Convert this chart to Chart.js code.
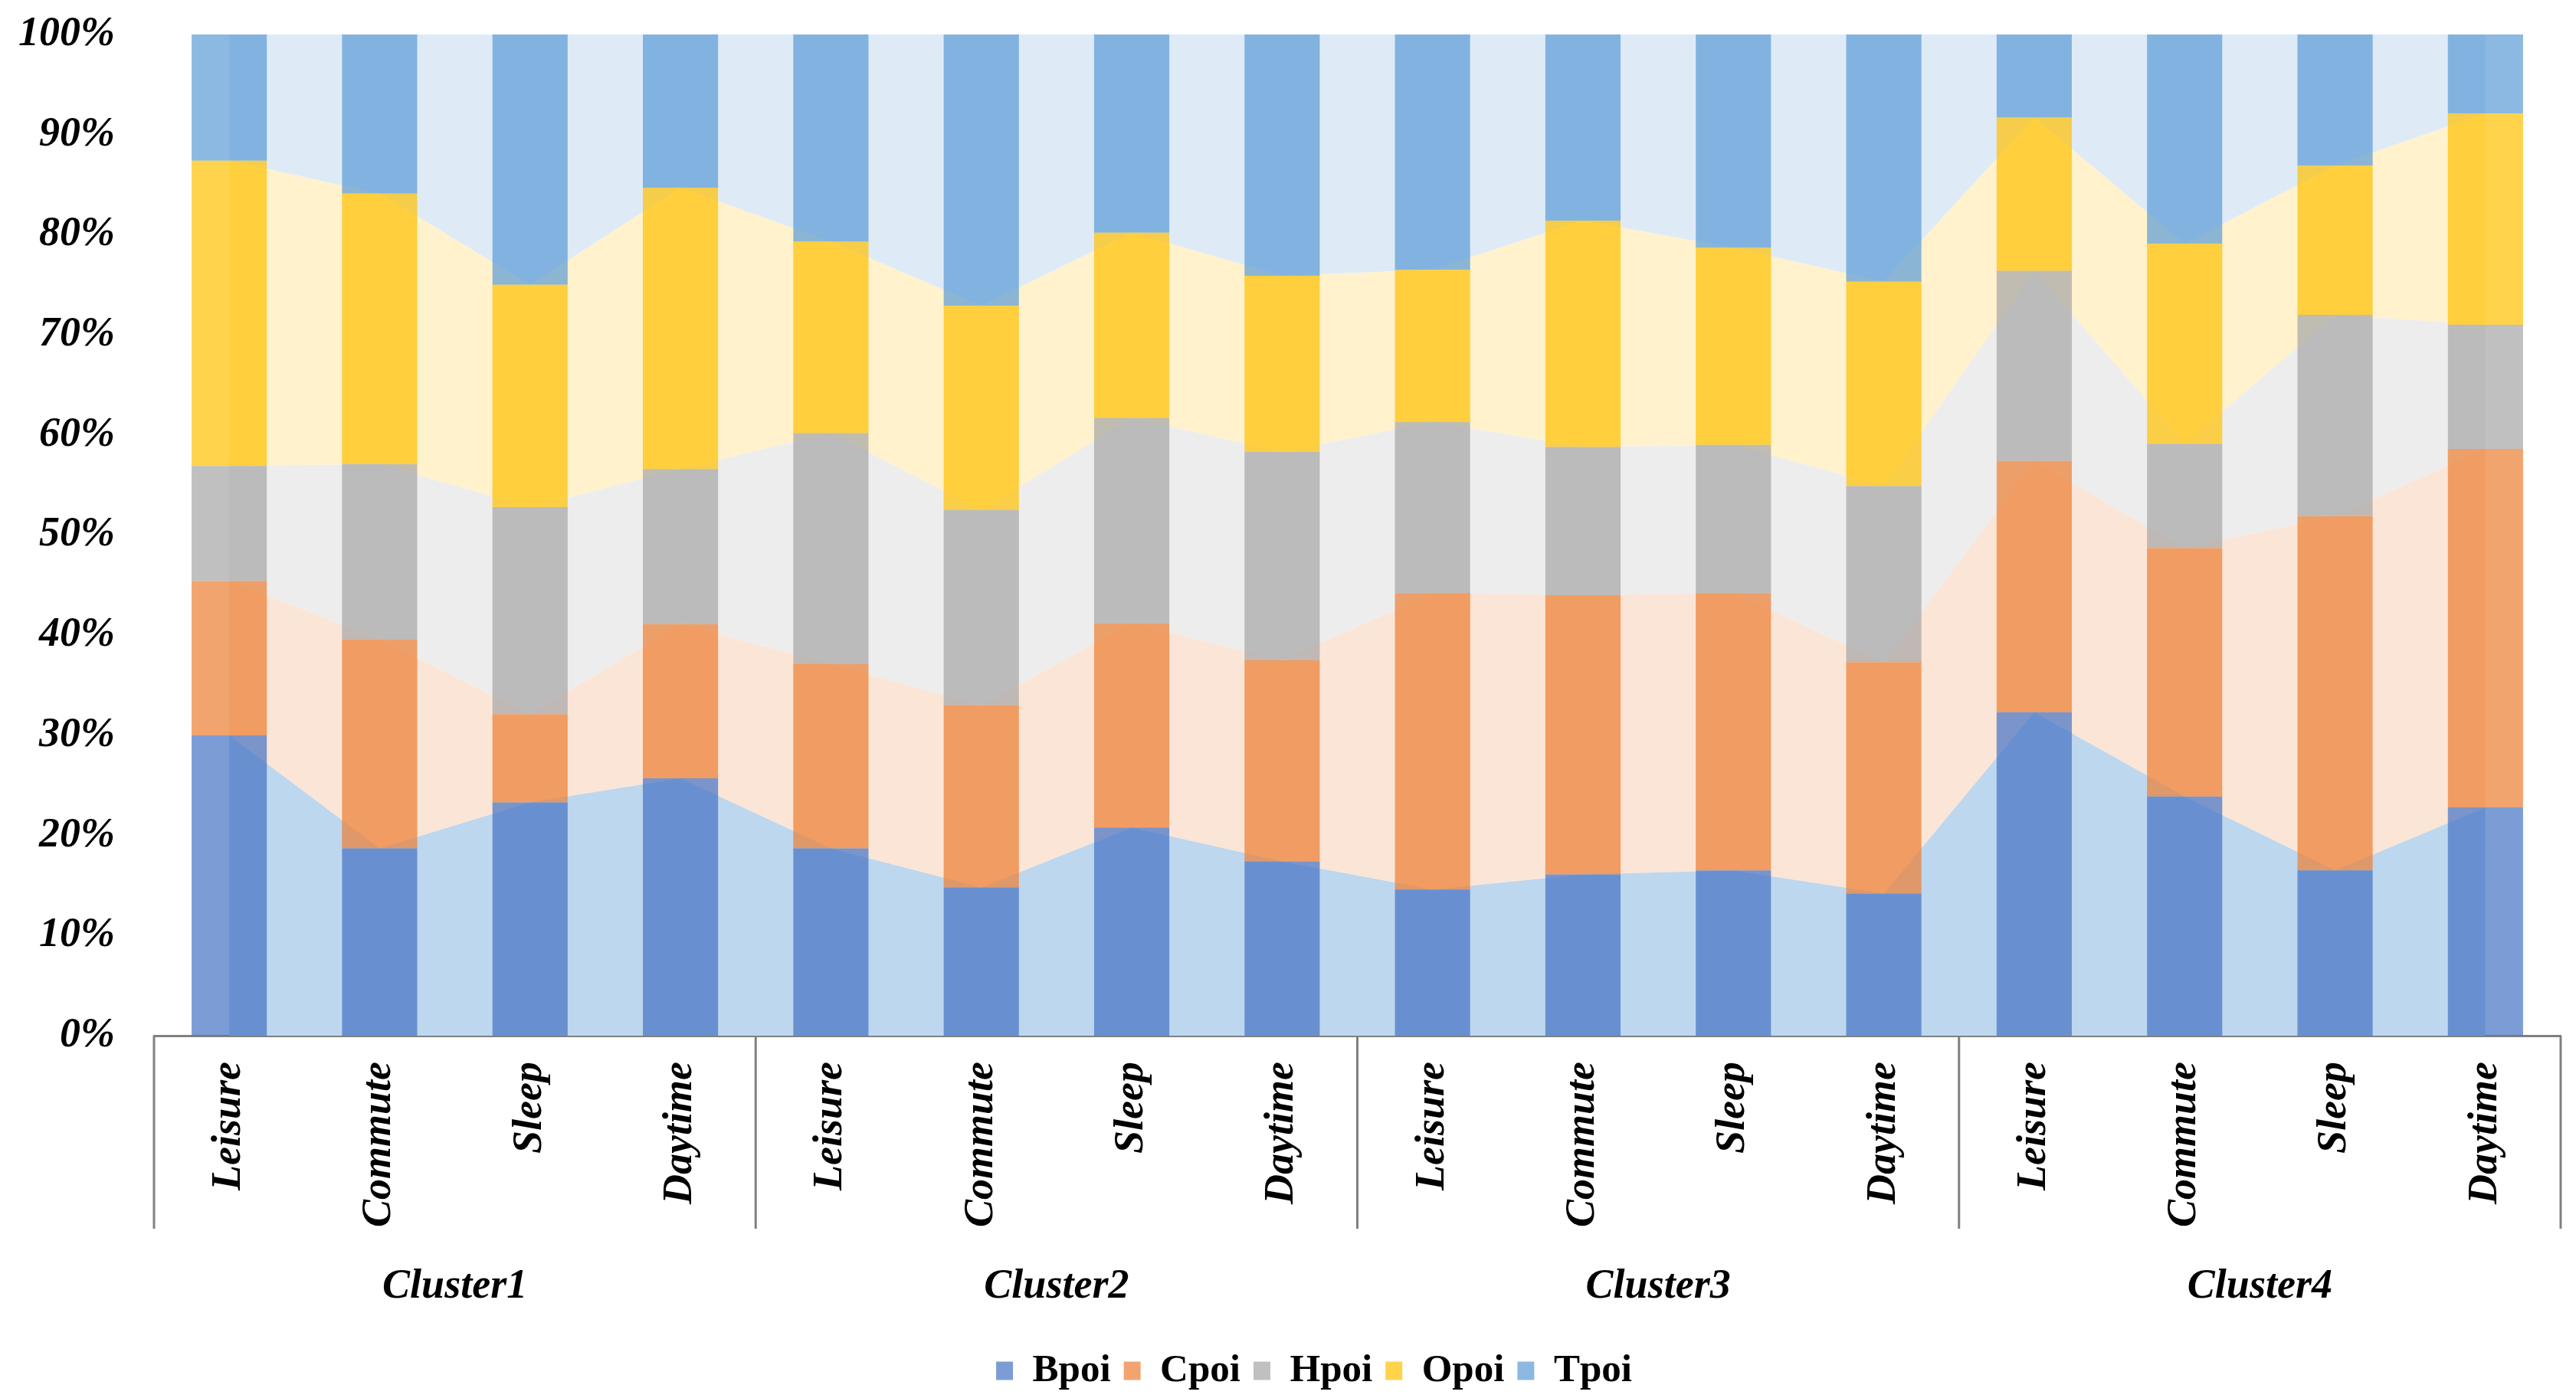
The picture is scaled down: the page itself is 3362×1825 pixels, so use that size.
<!DOCTYPE html>
<html>
<head>
<meta charset="utf-8">
<script src="https://cdn.jsdelivr.net/npm/chart.js@4.4.1/dist/chart.umd.min.js"></script>
<style>
  html, body { margin: 0; padding: 0; background: #fff; }
  #wrap { width: 3362px; height: 1825px; }
</style>
</head>
<body>
<div id="wrap"><canvas id="chart"></canvas></div>
<script>
// categories: 4 clusters x 4 periods
const clusters = ['Cluster1', 'Cluster2', 'Cluster3', 'Cluster4'];
const periods = ['Leisure', 'Commute', 'Sleep', 'Daytime'];
const labels = clusters.flatMap(() => periods);

// share of each poi type (%)
const bpoi = [30.0, 18.7, 23.3, 25.7, 18.7, 14.8, 20.8, 17.4, 14.6, 16.1, 16.5, 14.2, 32.3, 23.9, 16.5, 22.8];
const cpoi = [15.4, 20.9, 8.8, 15.4, 18.4, 18.2, 20.4, 20.1, 29.6, 27.9, 27.7, 23.1, 25.1, 24.8, 35.4, 35.8];
const hpoi = [11.5, 17.5, 20.7, 15.5, 23.1, 19.5, 20.5, 20.8, 17.1, 14.8, 14.8, 17.6, 19.0, 10.4, 20.1, 12.4];
const opoi = [30.5, 27.0, 22.2, 28.1, 19.1, 20.4, 18.5, 17.6, 15.2, 22.6, 19.7, 20.4, 15.3, 20.0, 14.9, 21.1];
const tpoi = [12.6, 15.9, 25.0, 15.3, 20.7, 27.1, 19.8, 24.1, 23.5, 18.6, 21.3, 24.7, 8.3, 20.9, 13.1, 7.9];

const yTicks = [0, 10, 20, 30, 40, 50, 60, 70, 80, 90, 100];

const seriesNames = ['Bpoi', 'Cpoi', 'Hpoi', 'Opoi', 'Tpoi'];
const seriesData = [bpoi, cpoi, hpoi, opoi, tpoi];
const barColors = ['rgba(68,114,196,0.7)', 'rgba(237,125,49,0.7)', 'rgba(165,165,165,0.7)', 'rgba(255,192,0,0.7)', 'rgba(91,155,213,0.7)'];
const areaColors = ['#bdd7ee', '#fbe5d6', '#ededed', '#fff2cc', '#deebf7'];

const serif = "'Liberation Serif', 'Times New Roman', serif";

const bars = seriesNames.map((name, i) => ({
  type: 'bar',
  label: name,
  data: seriesData[i],
  backgroundColor: barColors[i],
  borderWidth: 0,
  stack: 'bars',
  order: 1,
  categoryPercentage: 0.5,
  barPercentage: 1.0,
}));

// the pale bands behind the columns
const areas = seriesNames.map((name, i) => ({
  type: 'line',
  label: name + ' area',
  data: seriesData[i],
  backgroundColor: areaColors[i],
  borderWidth: 0,
  pointRadius: 0,
  tension: 0,
  fill: i === 0 ? 'origin' : '-1',
  stack: 'area',
  order: 2,
}));

// cluster labels and the separator lines under the axis
const groupAxis = {
  id: 'groupAxis',
  afterLayout(chart) {
    // legend sits a bit right of the canvas centre
    chart.legend.left += 44;
    chart.legend.right += 44;
  },
  afterDraw(chart) {
    const { ctx, chartArea } = chart;
    const x = chart.scales.x;
    const half = (x.getPixelForValue(1) - x.getPixelForValue(0)) / 2;
    const n = periods.length;
    ctx.save();
    ctx.strokeStyle = '#808080';
    ctx.lineWidth = 3;
    for (let g = 0; g <= clusters.length; g++) {
      const px = g < clusters.length
        ? x.getPixelForValue(g * n) - half
        : x.getPixelForValue(labels.length - 1) + half;
      ctx.beginPath();
      ctx.moveTo(px, chartArea.bottom);
      ctx.lineTo(px, chartArea.bottom + 252);
      ctx.stroke();
    }
    ctx.fillStyle = '#000';
    ctx.font = 'italic bold 54px ' + serif;
    ctx.textAlign = 'center';
    ctx.textBaseline = 'middle';
    clusters.forEach((c, g) => {
      const cx = (x.getPixelForValue(g * n) + x.getPixelForValue(g * n + n - 1)) / 2;
      ctx.fillText(c, cx, chartArea.bottom + 328);
    });
    ctx.restore();
  }
};

new Chart(document.getElementById('chart'), {
  data: { labels: labels, datasets: [...bars, ...areas] },
  plugins: [groupAxis],
  options: {
    responsive: true,
    maintainAspectRatio: false,
    animation: false,
    layout: { padding: { top: 0, left: 0, right: 20, bottom: 0 } },
    plugins: {
      tooltip: { enabled: false },
      legend: {
        position: 'bottom',
        labels: {
          filter: item => item.datasetIndex < seriesNames.length,
          boxWidth: 22,
          boxHeight: 24,
          padding: 17,
          color: '#000',
          font: { family: serif, size: 51, weight: 'bold' },
        },
      },
    },
    scales: {
      x: {
        stacked: true,
        grid: { display: false, drawTicks: false },
        border: { display: true, color: '#808080', width: 3 },
        ticks: {
          autoSkip: false,
          minRotation: 90,
          maxRotation: 90,
          padding: 34,
          color: '#000',
          font: { family: serif, size: 54, style: 'italic', weight: 'bold' },
        },
        afterFit: scale => { scale.height = 395; },
      },
      y: {
        stacked: true,
        min: 0,
        max: 100,
        grid: { display: false, drawTicks: false },
        border: { display: false },
        afterBuildTicks: scale => { scale.ticks = yTicks.map(v => ({ value: v })); },
        ticks: {
          padding: 51,
          color: '#000',
          callback: v => v + '%',
          font: { family: serif, size: 54, style: 'italic', weight: 'bold' },
        },
        afterFit: scale => {
          scale.width = 201;
          scale.paddingTop = 45;
          scale.paddingBottom = 32;
        },
      },
    },
  },
});
</script>
</body>
</html>
